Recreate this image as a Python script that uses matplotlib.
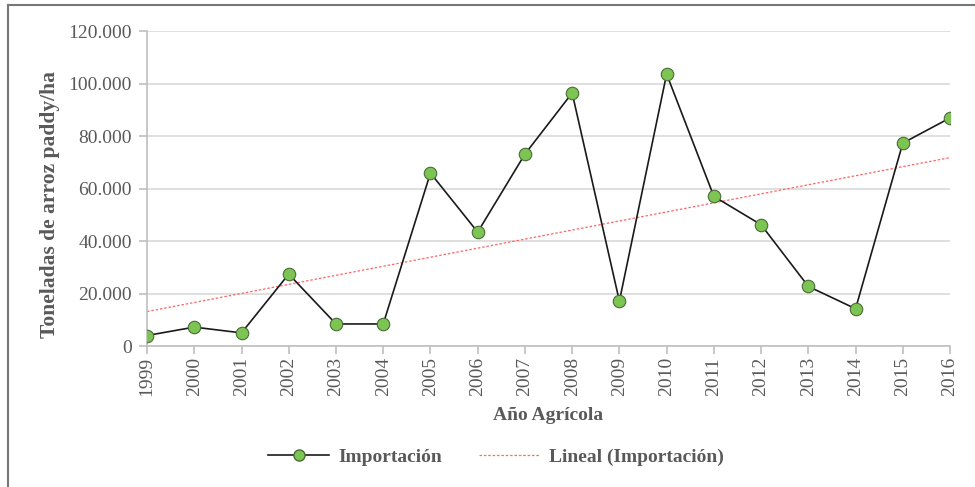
import numpy as np
import matplotlib.pyplot as plt
from matplotlib.ticker import FuncFormatter
from matplotlib.lines import Line2D

## Data
years = [1999, 2000, 2001, 2002, 2003, 2004, 2005, 2006, 2007,
         2008, 2009, 2010, 2011, 2012, 2013, 2014, 2015, 2016]
importacion = [4000, 7200, 5000, 27400, 8400, 8400, 65900, 43400, 73100,
               96400, 17100, 103600, 57000, 46200, 22700, 14200, 77300, 86900]

plt.rcParams['font.family'] = ['Liberation Serif', 'DejaVu Serif']
grey = '#595959'

fig = plt.figure(figsize=(9.75, 4.87), dpi=100)
ax = fig.add_axes([0.1508, 0.2895, 0.8236, 0.6468])

x = np.arange(len(years))
ax.plot(x, importacion, color='#1a1a1a', lw=1.2, marker='o', ms=9,
        markerfacecolor='#7dc552', markeredgecolor='#4a6b3a', mew=0.8, zorder=3)

# linear trend
coef = np.polyfit(x, importacion, 1)
ax.plot(x, np.polyval(coef, x), color='#ff6666', lw=0.9, ls=(0, (2, 1.5)), zorder=2)

ax.set_xlim(0, len(years) - 1)
ax.set_ylim(0, 120000)
ax.set_yticks(range(0, 120001, 20000))
ax.yaxis.set_major_formatter(FuncFormatter(lambda v, p: f'{int(v):,}'.replace(',', '.')))
ax.set_xticks(x)
ax.set_xticklabels([str(y) for y in years], rotation=90)

ax.grid(axis='y', color='#d9d9d9', lw=1.2)
ax.set_axisbelow(True)
for s in ['top', 'right']:
    ax.spines[s].set_visible(False)
for s in ['left', 'bottom']:
    ax.spines[s].set_color('#bfbfbf')
    ax.spines[s].set_linewidth(1.2)
ax.tick_params(axis='both', colors='#bfbfbf', labelcolor=grey, labelsize=14,
               length=6, width=1.2)
ax.tick_params(axis='x', pad=2)
ax.tick_params(axis='y', pad=5)

ax.set_ylabel('Toneladas de arroz paddy/ha', fontsize=15.5, fontweight='bold',
              color=grey)
ax.yaxis.set_label_coords(-0.108, 0.45)
ax.set_xlabel('Año Agrícola', fontsize=14, fontweight='bold', color=grey)
ax.xaxis.set_label_coords(0.5, -0.195)

handles = [Line2D([], [], color='#1a1a1a', lw=1.2, marker='o', ms=8,
                  markerfacecolor='#7dc552', markeredgecolor='#4a6b3a'),
           Line2D([], [], color='#ff6666', lw=0.9, ls=(0, (2, 1.5)))]
leg = fig.legend(handles, ['Importación', 'Lineal (Importación)'], loc='center',
                 bbox_to_anchor=(0.509, 0.062), ncol=2, frameon=False,
                 prop={'size': 14, 'weight': 'bold'}, handlelength=3.1,
                 handletextpad=0.5, columnspacing=1.9)
for t in leg.get_texts():
    t.set_color(grey)

# outer frame (left and top edges visible)
fig.add_artist(Line2D([0.0085, 0.0085], [0.0, 0.99], color='#777777', lw=1.5))
fig.add_artist(Line2D([0.0085, 1.0], [0.99, 0.99], color='#777777', lw=1.5))

fig.savefig('out.png', dpi=100)
